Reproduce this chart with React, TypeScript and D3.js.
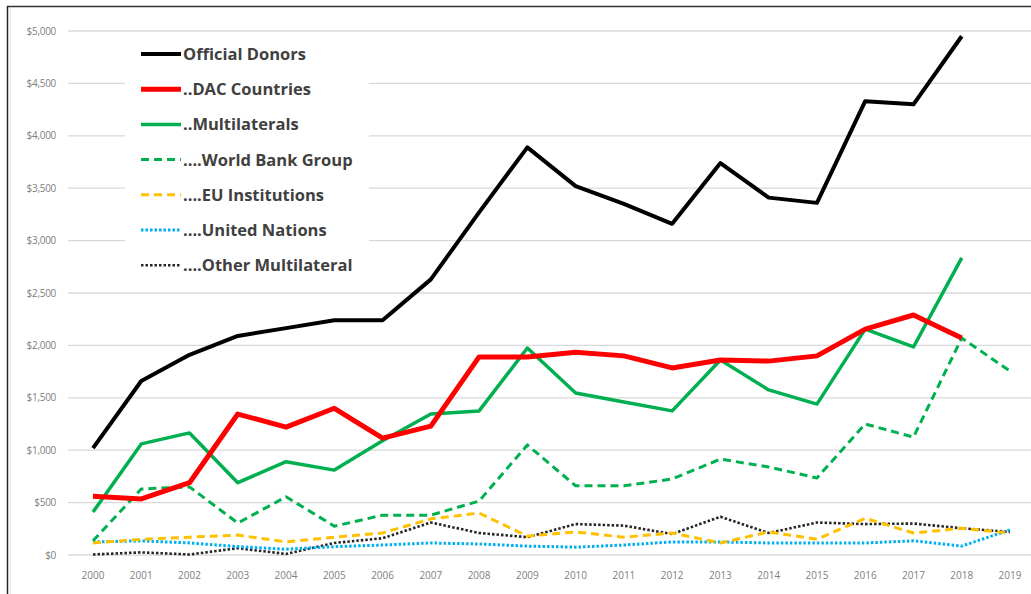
import * as d3 from 'd3';

const WIDTH = 1031;
const HEIGHT = 594;
const PLOT = { left: 93, right: 1010, top: 31, bottom: 555 };

const years = [
  2000, 2001, 2002, 2003, 2004, 2005, 2006, 2007, 2008, 2009,
  2010, 2011, 2012, 2013, 2014, 2015, 2016, 2017, 2018, 2019,
];
const yTicks = [0, 500, 1000, 1500, 2000, 2500, 3000, 3500, 4000, 4500, 5000];

const officialDonors = [1020, 1660, 1910, 2090, 2165, 2240, 2240, 2630, 3270, 3890, 3520, 3350, 3160, 3740, 3410, 3360, 4330, 4300, 4950, null];
const dacCountries = [560, 535, 690, 1345, 1220, 1400, 1115, 1230, 1890, 1890, 1935, 1900, 1785, 1860, 1850, 1900, 2155, 2290, 2070, null];
const multilaterals = [410, 1060, 1165, 690, 890, 810, 1090, 1345, 1375, 1975, 1545, 1460, 1375, 1860, 1575, 1440, 2155, 1985, 2835, null];
const worldBank = [135, 630, 650, 305, 555, 275, 380, 380, 515, 1050, 660, 660, 725, 915, 840, 735, 1250, 1125, 2070, 1755];
const euInstitutions = [115, 150, 170, 190, 125, 170, 210, 345, 400, 180, 220, 170, 210, 115, 220, 150, 350, 210, 255, 210];
const unitedNations = [125, 135, 115, 80, 55, 80, 95, 115, 105, 85, 75, 95, 125, 125, 115, 115, 115, 135, 85, 240];
const otherMultilateral = [5, 25, 5, 65, 10, 115, 160, 310, 210, 170, 295, 280, 200, 365, 210, 310, 295, 300, 255, 220];

const series = [
  { name: 'Official Donors', values: officialDonors, color: '#000000', width: 4, dash: '' },
  { name: '..DAC Countries', values: dacCountries, color: '#ff0000', width: 5, dash: '' },
  { name: '..Multilaterals', values: multilaterals, color: '#00b050', width: 3.5, dash: '' },
  { name: '....World Bank Group', values: worldBank, color: '#00b050', width: 3, dash: '8,5' },
  { name: '....EU Institutions', values: euInstitutions, color: '#ffc000', width: 3, dash: '8,5' },
  { name: '....United Nations', values: unitedNations, color: '#00b0f0', width: 3, dash: '2.5,2' },
  { name: '....Other Multilateral', values: otherMultilateral, color: '#262626', width: 2.6, dash: '2.5,2' },
];

const fmt = (v: number) => (v === 0 ? '$0' : `$${d3.format(',')(v)}`);

export default function App() {
  const x = d3.scalePoint<number>().domain(years).range([PLOT.left, PLOT.right]);
  const y = d3.scaleLinear().domain([0, 5000]).range([PLOT.bottom, PLOT.top]);

  const line = d3
    .line<number | null>()
    .defined((d) => d != null)
    .x((_, i) => x(years[i]) ?? 0)
    .y((d) => y(d as number));

  // small series first so the main lines sit on top
  const drawOrder = [6, 5, 4, 3, 2, 1, 0];

  return (
    <svg
      width={WIDTH}
      height={HEIGHT}
      style={{ position: 'absolute', left: 0, top: 0, background: '#fff' }}
      fontFamily="'Open Sans', 'Liberation Sans', sans-serif"
    >
      <rect x={0} y={0} width={WIDTH} height={HEIGHT} fill="#fff" />
      {/* frame */}
      <line x1={7} x2={WIDTH} y1={6.5} y2={6.5} stroke="#333" strokeWidth={1.5} />
      <line x1={7.5} x2={7.5} y1={6} y2={HEIGHT} stroke="#222" strokeWidth={1.5} />
      <line x1={10.5} x2={10.5} y1={8} y2={HEIGHT} stroke="#e4e4e4" strokeWidth={1} />

      {/* grid + y labels */}
      {yTicks.map((t) => (
        <g key={t}>
          <line x1={68} x2={WIDTH} y1={y(t)} y2={y(t)} stroke="#d9d9d9" strokeWidth={1.3} />
          <text x={56} y={y(t)} dy="0.35em" textAnchor="end" fontSize={10} fill="#808080" letterSpacing={-0.3}>
            {fmt(t)}
          </text>
        </g>
      ))}

      {/* x labels */}
      {years.map((yr) => (
        <text key={yr} x={x(yr)} y={579} textAnchor="middle" fontSize={10} fill="#808080">
          {yr}
        </text>
      ))}

      {/* legend background */}
      <rect x={125} y={35} width={244} height={248} fill="#fff" />

      {/* series */}
      {drawOrder.map((i) => {
        const s = series[i];
        return (
          <path
            key={s.name}
            d={line(s.values) ?? ''}
            fill="none"
            stroke={s.color}
            strokeWidth={s.width}
            strokeDasharray={s.dash || undefined}
            strokeLinejoin="round"
          />
        );
      })}

      {/* legend */}
      {series.map((s, i) => {
        const ly = 54 + i * 35.2;
        return (
          <g key={s.name}>
            <line
              x1={141}
              x2={181}
              y1={ly}
              y2={ly}
              stroke={s.color}
              strokeWidth={s.width}
              strokeDasharray={s.dash || undefined}
            />
            <text x={183} y={ly} dy="0.36em" fontSize={16.5} fontWeight="bold" fill="#404040">
              {s.name}
            </text>
          </g>
        );
      })}
    </svg>
  );
}
